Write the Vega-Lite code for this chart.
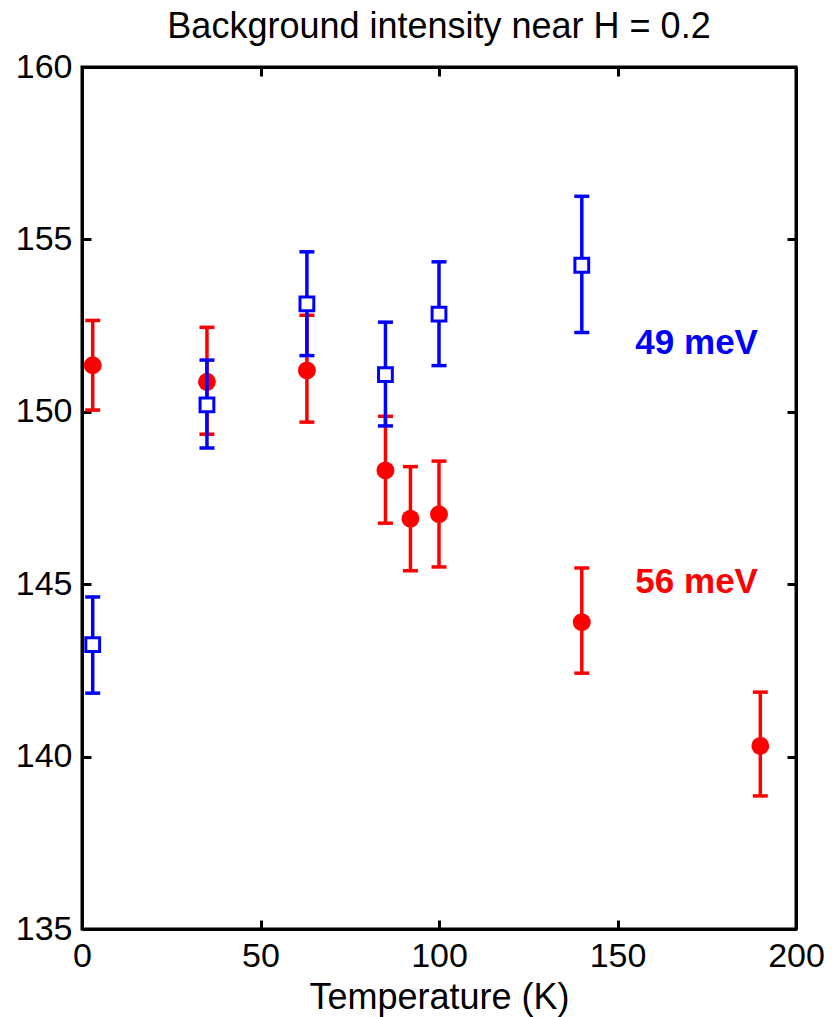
{
  "$schema": "https://vega.github.io/schema/vega-lite/v6.json",
  "width": 714,
  "height": 862,
  "autosize": "none",
  "padding": {"left": 82, "top": 67, "right": 36, "bottom": 88},
  "background": "white",
  "title": {"text": "Background intensity near H = 0.2", "fontSize": 36, "font": "Liberation Sans", "fontWeight": "normal", "color": "black", "offset": 4, "anchor": "middle"},
  "datasets": {
    "red": [
      {"T": 3, "v": 151.35, "lo": 150.05, "hi": 152.65},
      {"T": 35, "v": 150.87, "lo": 149.35, "hi": 152.45},
      {"T": 63, "v": 151.2, "lo": 149.7, "hi": 152.8},
      {"T": 85, "v": 148.3, "lo": 146.77, "hi": 149.87},
      {"T": 92, "v": 146.9, "lo": 145.39, "hi": 148.41},
      {"T": 100, "v": 147.03, "lo": 145.5, "hi": 148.57},
      {"T": 140, "v": 143.9, "lo": 142.42, "hi": 145.47},
      {"T": 190, "v": 140.31, "lo": 138.86, "hi": 141.87}
    ],
    "blue": [
      {"T": 3, "v": 143.25, "lo": 141.84, "hi": 144.63},
      {"T": 35, "v": 150.2, "lo": 148.95, "hi": 151.5},
      {"T": 63, "v": 153.13, "lo": 151.63, "hi": 154.64},
      {"T": 85, "v": 151.08, "lo": 149.59, "hi": 152.6},
      {"T": 100, "v": 152.83, "lo": 151.34, "hi": 154.35},
      {"T": 140, "v": 154.25, "lo": 152.3, "hi": 156.25}
    ],
    "labels": [
      {"T": 155, "v": 152.0, "label": "49 meV", "series": "49"},
      {"T": 155, "v": 145.05, "label": "56 meV", "series": "56"}
    ]
  },
  "config": {
    "font": "Liberation Sans",
    "view": {"stroke": "black", "strokeWidth": 3},
    "axis": {
      "domainColor": "black", "domainWidth": 3, "tickColor": "black", "tickWidth": 3, "tickSize": -9,
      "labelFontSize": 34, "labelColor": "black", "labelFont": "Liberation Sans", "grid": false,
      "titleFont": "Liberation Sans", "titleFontSize": 36, "titleFontWeight": "normal", "titleColor": "black",
      "labelPadding": 19, "labelFlush": false, "labelOverlap": false
    }
  },
  "resolve": {"axis": {"x": "independent", "y": "independent"}},
  "layer": [
    {
      "data": {"name": "red"},
      "mark": {"type": "rule", "color": "#ff0000", "strokeWidth": 3.5},
      "encoding": {
        "x": {"field": "T", "type": "quantitative", "scale": {"domain": [0, 200], "nice": false}, "axis": {"values": [0, 50, 100, 150, 200], "title": "Temperature (K)", "titlePadding": 7}},
        "y": {"field": "lo", "type": "quantitative", "scale": {"domain": [135, 160], "nice": false, "zero": false}, "axis": {"values": [135, 140, 145, 150, 155, 160], "title": null}},
        "y2": {"field": "hi"}
      }
    },
    {
      "data": {"name": "red"},
      "mark": {"type": "tick", "orient": "horizontal", "color": "#ff0000", "size": 15, "thickness": 3.5, "opacity": 1},
      "encoding": {
        "x": {"field": "T", "type": "quantitative", "axis": null},
        "y": {"field": "lo", "type": "quantitative", "axis": null}
      }
    },
    {
      "data": {"name": "red"},
      "mark": {"type": "tick", "orient": "horizontal", "color": "#ff0000", "size": 15, "thickness": 3.5, "opacity": 1},
      "encoding": {
        "x": {"field": "T", "type": "quantitative", "axis": null},
        "y": {"field": "hi", "type": "quantitative", "axis": null}
      }
    },
    {
      "data": {"name": "red"},
      "mark": {"type": "point", "shape": "circle", "filled": true, "color": "#ff0000", "size": 320, "opacity": 1},
      "encoding": {
        "x": {"field": "T", "type": "quantitative", "axis": null},
        "y": {"field": "v", "type": "quantitative", "axis": null}
      }
    },
    {
      "data": {"name": "blue"},
      "mark": {"type": "rule", "color": "#0000ff", "strokeWidth": 3.5},
      "encoding": {
        "x": {"field": "T", "type": "quantitative", "axis": null},
        "y": {"field": "lo", "type": "quantitative", "axis": null},
        "y2": {"field": "hi"}
      }
    },
    {
      "data": {"name": "blue"},
      "mark": {"type": "tick", "orient": "horizontal", "color": "#0000ff", "size": 15, "thickness": 3.5, "opacity": 1},
      "encoding": {
        "x": {"field": "T", "type": "quantitative", "axis": null},
        "y": {"field": "lo", "type": "quantitative", "axis": null}
      }
    },
    {
      "data": {"name": "blue"},
      "mark": {"type": "tick", "orient": "horizontal", "color": "#0000ff", "size": 15, "thickness": 3.5, "opacity": 1},
      "encoding": {
        "x": {"field": "T", "type": "quantitative", "axis": null},
        "y": {"field": "hi", "type": "quantitative", "axis": null}
      }
    },
    {
      "data": {"name": "blue"},
      "mark": {"type": "square", "fill": "white", "stroke": "#0000ff", "strokeWidth": 3, "size": 190, "opacity": 1, "fillOpacity": 1},
      "encoding": {
        "x": {"field": "T", "type": "quantitative", "axis": null},
        "y": {"field": "v", "type": "quantitative", "axis": null}
      }
    },
    {
      "data": {"name": "labels"},
      "mark": {"type": "text", "align": "left", "baseline": "middle", "fontSize": 35, "fontWeight": "bold", "font": "Liberation Sans"},
      "encoding": {
        "x": {"field": "T", "type": "quantitative", "axis": null},
        "y": {"field": "v", "type": "quantitative", "axis": null},
        "text": {"field": "label"},
        "color": {"field": "series", "type": "nominal", "scale": {"domain": ["49", "56"], "range": ["#0000ff", "#ff0000"]}, "legend": null}
      }
    },
    {
      "data": {"name": "red"},
      "mark": {"type": "point", "opacity": 0},
      "encoding": {
        "x": {"field": "T", "type": "quantitative", "axis": {"orient": "top", "values": [0, 50, 100, 150, 200], "labels": false, "title": null}},
        "y": {"field": "v", "type": "quantitative", "axis": {"orient": "right", "values": [135, 140, 145, 150, 155, 160], "labels": false, "title": null}}
      }
    }
  ]
}
